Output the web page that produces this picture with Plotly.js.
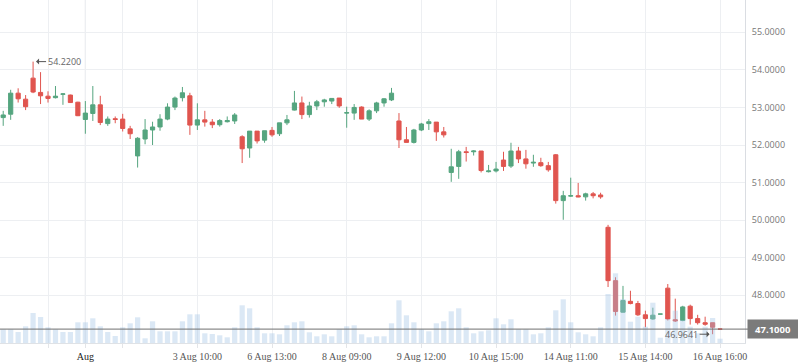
<!DOCTYPE html>
<html>
<head>
<meta charset="utf-8">
<script src="https://cdn.plot.ly/plotly-3.0.1.min.js"></script>
<style>html,body{margin:0;padding:0;background:#fff;}#chart{width:798px;height:363px;}</style>
</head>
<body>
<div id="chart"></div>
<script>
// Trading sessions (days and hourly candles)
const days = ['30 Jul','31 Jul','1 Aug','2 Aug','3 Aug','6 Aug','7 Aug','8 Aug','9 Aug','10 Aug','13 Aug','14 Aug','15 Aug','16 Aug'];
const fullDay = [9,10,11,12,13,14,15];
const lateDay = [9,10,11,12,13,14,15,16];
const sessionHours = [[12,13,14,15], fullDay, fullDay, fullDay, fullDay, fullDay, fullDay, fullDay, fullDay, fullDay, fullDay, fullDay, lateDay, lateDay];

const open = [52.73,52.82,53.38,53.22,53.78,53.40,53.30,53.26,53.35,53.33,53.14,52.68,52.84,53.07,52.57,52.70,52.69,52.43,51.71,52.16,
  52.40,52.48,52.69,53.01,53.26,53.31,52.53,52.67,52.61,52.54,52.62,52.64,52.22,51.92,52.37,52.13,52.39,52.30,52.59,52.93,
  53.12,52.81,53.04,53.15,53.17,53.25,52.85,52.85,53.01,52.69,52.91,53.12,53.20,52.64,52.14,52.07,52.40,52.57,52.61,52.35,
  51.27,51.43,51.82,51.82,51.84,51.29,51.31,51.60,51.44,51.84,51.63,51.52,51.53,51.45,51.74,50.52,50.64,50.65,50.62,50.70,
  50.67,49.81,48.39,47.55,47.84,47.78,47.48,47.37,47.50,48.19,47.35,47.33,47.71,47.38,47.27,47.27,47.10];
const high = [52.91,53.47,53.51,53.33,54.22,53.94,53.43,53.57,53.38,53.34,53.15,53.17,53.57,53.31,52.76,52.76,52.83,52.51,52.21,52.69,
  52.62,52.82,53.11,53.29,53.545,53.39,53.11,52.91,52.69,52.69,52.76,52.85,52.26,52.37,52.37,52.38,52.48,52.59,52.80,53.44,
  53.29,53.15,53.20,53.23,53.24,53.25,53.02,53.09,53.03,52.95,53.15,53.25,53.52,52.85,52.48,52.43,52.59,52.69,52.61,52.48,
  51.90,51.87,51.95,51.86,51.84,51.47,51.55,51.82,52.06,51.95,51.87,51.74,51.66,51.55,51.76,50.78,51.13,50.99,50.73,50.75,
  50.73,49.875,48.48,48.25,48.12,47.85,47.59,47.67,47.50,48.30,47.91,47.72,47.75,47.48,47.43,47.27,47.10];
const low = [52.51,52.67,53.13,52.93,53.38,53.09,53.13,53.24,53.07,53.12,52.77,52.30,52.64,52.53,52.51,52.58,52.36,52.16,51.40,52.02,
  52.00,52.38,52.66,52.93,53.16,52.27,52.40,52.49,52.45,52.49,52.60,52.56,51.52,51.66,52.04,52.06,52.22,52.24,52.53,52.92,
  52.69,52.73,52.93,53.02,53.09,52.99,52.46,52.67,52.69,52.64,52.85,53.02,53.17,51.92,52.07,52.04,52.37,52.40,52.11,52.20,
  51.02,51.10,51.56,51.72,51.27,51.27,51.27,51.31,51.39,51.52,51.37,51.42,51.42,51.29,50.44,50.01,50.62,50.61,50.52,50.58,
  50.57,48.22,47.46,47.54,47.76,47.45,47.15,47.35,47.50,47.33,47.29,47.31,47.22,47.22,47.19,46.9641,47.10];
const close = [52.80,53.38,53.23,53.02,53.41,53.31,53.24,53.30,53.36,53.13,52.78,52.85,53.07,52.60,52.69,52.68,52.44,52.30,52.18,52.40,
  52.48,52.69,53.01,53.25,53.39,52.53,52.67,52.61,52.54,52.65,52.65,52.80,51.90,52.37,52.11,52.38,52.27,52.59,52.67,53.12,
  52.81,53.04,53.15,53.20,53.24,53.04,52.86,53.00,52.69,52.91,53.12,53.23,53.38,52.14,52.07,52.40,52.56,52.62,52.35,52.27,
  51.42,51.82,51.80,51.84,51.32,51.31,51.36,51.43,51.84,51.63,51.50,51.54,51.45,51.34,50.52,50.65,50.65,50.62,50.70,50.65,
  50.62,48.39,47.57,47.86,47.78,47.48,47.38,47.47,47.50,47.37,47.32,47.69,47.38,47.27,47.23,47.15,47.10];
const volume = [137,137,110,167,300,260,157,137,110,110,207,207,247,167,110,70,157,197,257,47,
  217,117,117,117,217,287,287,97,90,77,57,157,377,347,157,97,97,87,177,207,
  217,107,67,87,67,137,167,177,87,57,67,67,197,427,277,207,137,117,197,217,
  317,347,157,97,117,127,247,187,237,137,137,87,97,157,327,437,207,107,87,67,
  157,490,697,440,213,263,163,403,53,240,323,230,163,97,163,250,43];

// Axis tick labels
const tickCategories = ['31 Jul 11:00','1 Aug 09:00','1 Aug 14:00','3 Aug 10:00','6 Aug 13:00','8 Aug 09:00','9 Aug 12:00','10 Aug 15:00','14 Aug 11:00','15 Aug 14:00','16 Aug 16:00'];
const tickLabels = ['','<span style="color:#222">Aug</span>','','3 Aug 10:00','6 Aug 13:00','8 Aug 09:00','9 Aug 12:00','10 Aug 15:00','14 Aug 11:00','15 Aug 14:00','16 Aug 16:00'];
const priceTicks = [48,49,50,51,52,53,54,55];

const pad = n => (n < 10 ? '0' : '') + n + ':00';
const categories = [];
days.forEach((d, k) => sessionHours[k].forEach(h => categories.push(d + ' ' + pad(h))));

const GREEN = '#55a57f', RED = '#e0554f';
const hiIdx = high.indexOf(Math.max(...high));
const loIdx = low.indexOf(Math.min(...low));
const last = close[close.length - 1];

const traces = [
  {type:'candlestick', x:categories, open:open, high:high, low:low, close:close,
   increasing:{line:{color:GREEN,width:1}, fillcolor:GREEN},
   decreasing:{line:{color:RED,width:1}, fillcolor:RED},
   whiskerwidth:0, hoverinfo:'none', xaxis:'x', yaxis:'y'},
  {type:'bar', x:categories, y:volume, marker:{color:'rgba(160,194,228,0.38)', line:{width:0}},
   hoverinfo:'none', xaxis:'x', yaxis:'y2'}
];

const annFont = {family:'Open Sans, sans-serif', size:9, color:'#666'};
const layout = {
  width:798, height:363,
  margin:{l:0, r:53, t:0, b:20, pad:0},
  paper_bgcolor:'#fff', plot_bgcolor:'#fff',
  showlegend:false, bargap:0.3, boxgap:0.2,
  xaxis:{type:'category', categoryorder:'array', categoryarray:categories,
    range:[-0.43, 99.34], rangeslider:{visible:false},
    tickmode:'array', tickvals:tickCategories, ticktext:tickLabels,
    showgrid:true, gridcolor:'#edeff2', gridwidth:1,
    ticks:'outside', ticklen:4, tickcolor:'#e3e5e8',
    showline:true, linecolor:'#dfe2e6', linewidth:1,
    tickfont:{family:'Liberation Serif, serif', size:10, color:'#555'},
    tickangle:0, fixedrange:true, zeroline:false},
  yaxis:{side:'right', range:[46.73, 55.86], tickmode:'array', tickvals:priceTicks,
    ticktext:priceTicks.map(v => v.toFixed(4)),
    showgrid:true, gridcolor:'#edeff2', gridwidth:1,
    ticks:'outside', ticklen:4, tickcolor:'#fff',
    showline:true, linecolor:'#dadde2', linewidth:1, zeroline:false,
    tickfont:{family:'Open Sans, sans-serif', size:9, color:'#777'}, fixedrange:true},
  yaxis2:{overlaying:'y', side:'right', range:[0, 3430], showgrid:false, showticklabels:false,
    zeroline:false, showline:false, fixedrange:true},
  shapes:[
    {type:'line', xref:'x', yref:'paper', x0:'1 Aug 09:00', x1:'1 Aug 09:00', y0:0, y1:1,
     line:{color:'#d6d8dc', width:1}, layer:'below'},
    {type:'line', xref:'paper', yref:'y', x0:0, x1:1.005, y0:last, y1:last,
     line:{color:'#707070', width:1}, layer:'above'}
  ],
  annotations:[
    {x:categories[hiIdx], y:high[hiIdx], xref:'x', yref:'y', text:high[hiIdx].toFixed(4),
     showarrow:true, ax:31, ay:0, arrowhead:1, arrowsize:1, arrowwidth:1, arrowcolor:'#555',
     standoff:3, font:annFont},
    {x:categories[loIdx], y:low[loIdx], xref:'x', yref:'y', text:low[loIdx].toFixed(4),
     showarrow:true, ax:-31, ay:0, arrowhead:1, arrowsize:1, arrowwidth:1, arrowcolor:'#555',
     standoff:3, font:annFont},
    {x:1, xref:'paper', y:last, yref:'y', xanchor:'left', xshift:2, showarrow:false,
     text:'<b>' + last.toFixed(4) + '</b>', bgcolor:'#7b7b7b', borderpad:3, width:44, height:12,
     font:{family:'Open Sans, sans-serif', size:9.5, color:'#fff'}}
  ]
};

Plotly.newPlot('chart', traces, layout, {staticPlot:true, displayModeBar:false});
</script>
</body>
</html>
